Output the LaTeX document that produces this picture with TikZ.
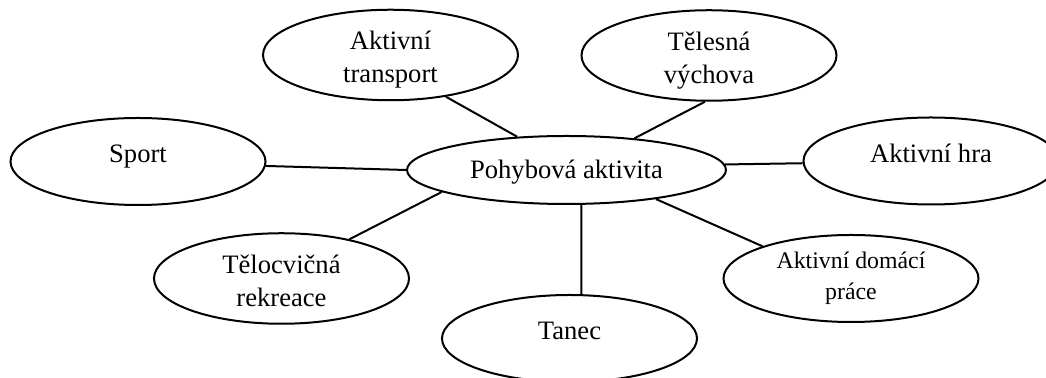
\documentclass[tikz,border=0pt]{standalone}
\usepackage{fontspec}
\setmainfont{Liberation Serif}
\usetikzlibrary{shapes.geometric}

\tikzset{
    bubble/.style={ellipse, draw, line width=1pt, inner sep=0pt, align=center,
        minimum width=127.5pt, minimum height=43.5pt,
        font=\fontsize{13.3}{16.5}\selectfont, text height=9pt, text depth=7.5pt},
    twoline/.style={text height=30pt, text depth=2pt},
    link/.style={line width=1pt}
}

\begin{document}
\begin{tikzpicture}[x=0.5pt, y=-0.5pt]
                \useasboundingbox (0,0) rectangle (1046,378);
                \clip (0,0) rectangle (1046,378);

                % Centre
                \node[bubble, minimum width=159.5pt, minimum height=34pt, text depth=0pt] (pa) at (566.5,170) {Pohybová aktivita};

                % Outer ellipses
                \node[bubble, twoline] (transport) at (390.5,55) {Aktivní\\transport};
                \node[bubble, twoline] (telesna) at (709,55.5) {Tělesná\\výchova};
                \node[bubble] (sport) at (138,161.5) {Sport};
                \node[bubble] (hra) at (931,161) {Aktivní hra};
                \node[bubble, twoline] (telocvicna) at (281.5,278.5) {Tělocvičná\\rekreace};
                \node[bubble, font=\fontsize{11.9}{15.5}\selectfont, text height=23pt, text depth=1.5pt] (domaci) at (851,278.5) {Aktivní domácí\\práce};
                \node[bubble] (tanec) at (569.5,338.5) {Tanec};

                % Spokes
                \draw[link] (transport.-37) -- (pa.146);
                \draw[link] (telesna.-95) -- (pa.25);
                \draw[link] (sport.-2) -- (pa.180);
                \draw[link] (hra.181) -- (pa.2);
                \draw[link] (telocvicna.30) -- (pa.190);
                \draw[link] (domaci.160) -- (pa.-18);
                \draw[link] (tanec.75) -- (pa.-67);
            \end{tikzpicture}
\end{document}
